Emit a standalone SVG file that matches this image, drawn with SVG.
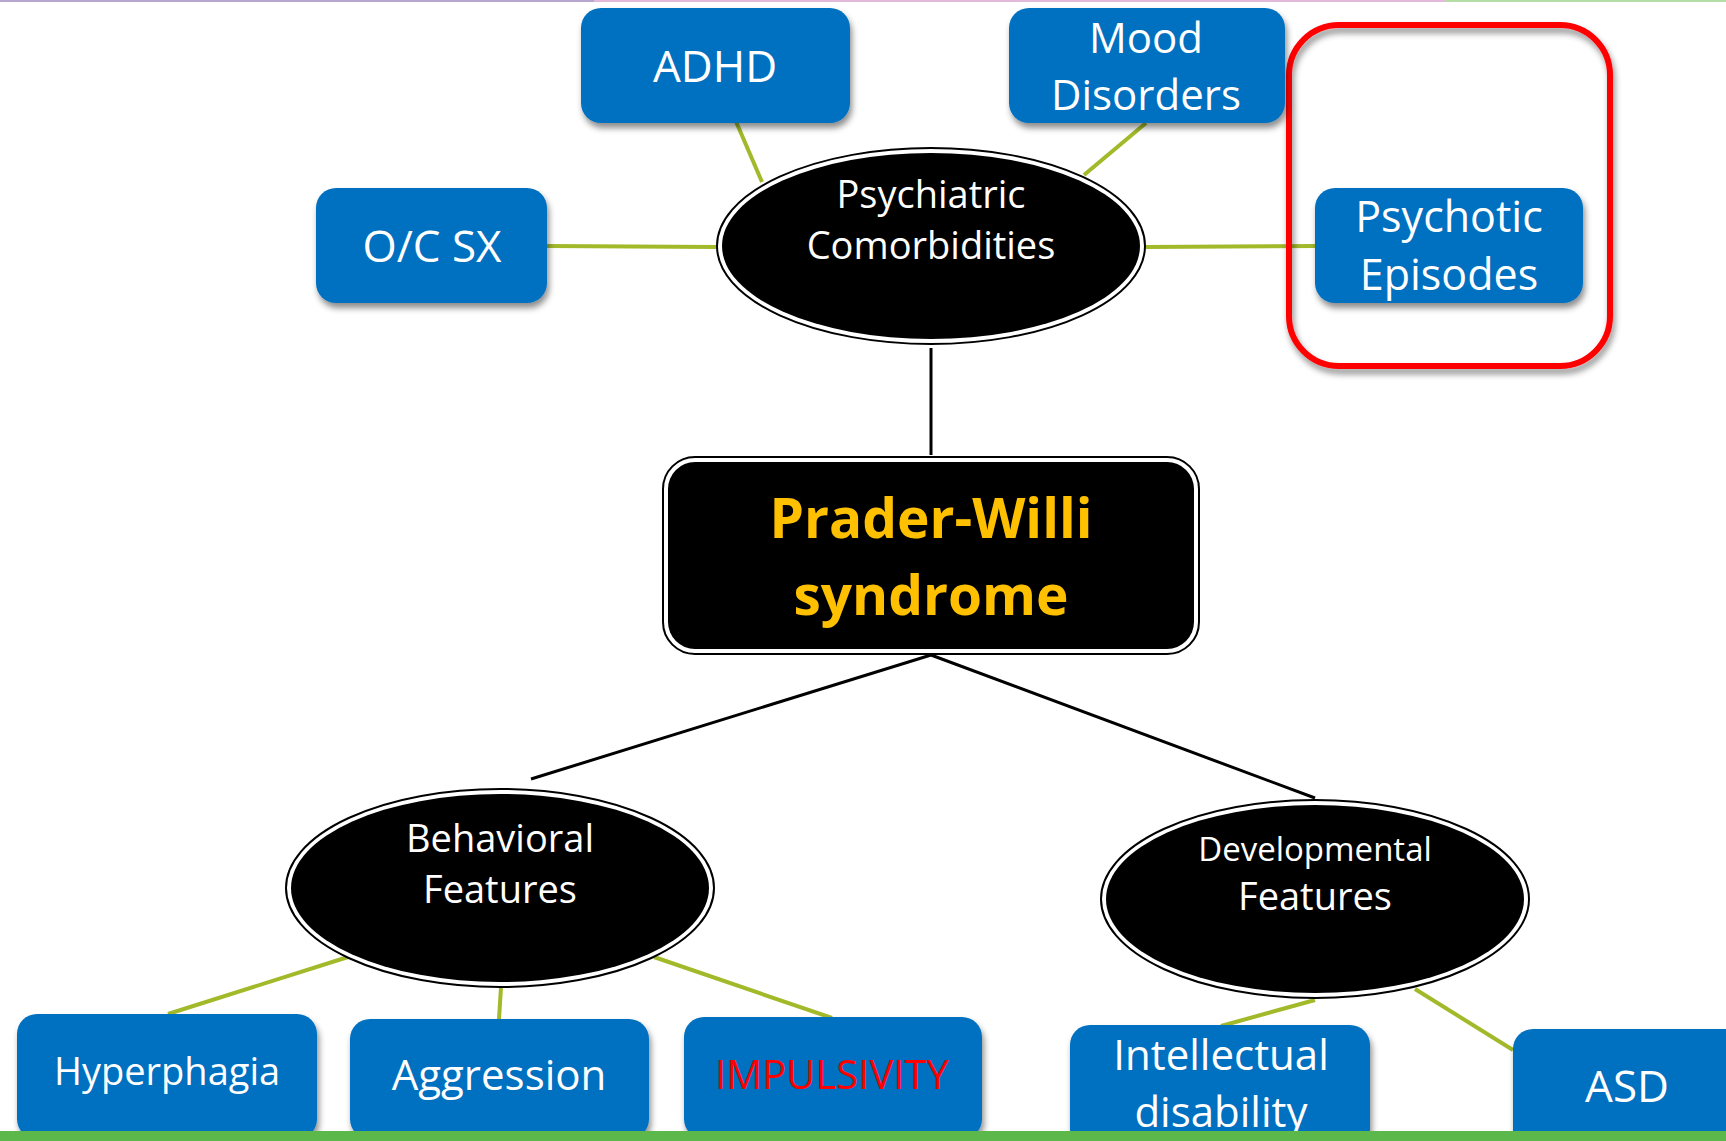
<svg xmlns="http://www.w3.org/2000/svg" width="1726" height="1141" viewBox="0 0 1726 1141">
<defs>
<filter id="sh" x="-20%" y="-20%" width="140%" height="150%">
<feDropShadow dx="2" dy="5" stdDeviation="3" flood-color="#000" flood-opacity="0.45"/>
</filter>
<style>
.box{fill:#0070C0;filter:url(#sh)}
.t{font-family:"Open Sans","Liberation Sans",sans-serif;fill:#fff;text-anchor:middle}
.g{stroke:#A2B92A;stroke-width:4;fill:none}
.k{stroke:#000;stroke-width:3;fill:none}
.ring{fill:#fff;stroke:#000;stroke-width:2}
.core{fill:#000}
.pw{font-family:"Open Sans","Liberation Sans",sans-serif;font-size:55px;font-weight:bold;fill:#FFC000;text-anchor:middle}
</style>
</defs>
<rect x="0" y="0" width="1726" height="1141" fill="#fff"/>
<rect x="0" y="0" width="594" height="2" fill="#B7A6CF"/>
<rect x="594" y="0" width="851" height="2" fill="#E3B9DA"/>
<rect x="1445" y="0" width="281" height="2" fill="#B5DDA6"/>

<g id="connectors">
<line class="g" x1="722" y1="89" x2="762" y2="182"/>
<line class="g" x1="1146" y1="123" x2="1084" y2="175"/>
<line class="g" x1="547" y1="246" x2="716" y2="247"/>
<line class="g" x1="1146" y1="247" x2="1315" y2="246"/>
<line class="k" x1="931" y1="348" x2="931" y2="455"/>
<line class="k" x1="931" y1="655" x2="531" y2="779"/>
<line class="k" x1="931" y1="655" x2="1315" y2="798"/>
<line class="g" x1="168" y1="1014" x2="348" y2="957"/>
<line class="g" x1="499" y1="1019" x2="501" y2="987"/>
<line class="g" x1="832" y1="1018" x2="654" y2="957"/>
<line class="g" x1="1221" y1="1026" x2="1315" y2="1000"/>
<line class="g" x1="1513" y1="1050" x2="1415" y2="989"/>
</g>

<g id="highlight">
<rect x="1289" y="25" width="321" height="341" rx="50" fill="none" stroke="#FF0000" stroke-width="6" filter="url(#sh)"/>
</g>

<g id="adhd">
<rect class="box" x="581" y="8" width="269" height="115" rx="20"/>
<text class="t" x="715" y="82" font-size="44">ADHD</text>
</g>
<g id="mood">
<rect class="box" x="1009" y="8" width="276" height="115" rx="20"/>
<text class="t" x="1146" y="53" font-size="42">Mood</text>
<text class="t" x="1146" y="110" font-size="42">Disorders</text>
</g>
<g id="ocsx">
<rect class="box" x="316" y="188" width="231" height="115" rx="20"/>
<text class="t" x="432" y="262" font-size="44">O/C SX</text>
</g>
<g id="psychotic">
<rect class="box" x="1315" y="188" width="268" height="115" rx="20"/>
<text class="t" x="1449" y="232" font-size="43">Psychotic</text>
<text class="t" x="1449" y="290" font-size="43">Episodes</text>
</g>
<g id="psychiatric">
<ellipse class="ring" cx="931" cy="246" rx="214" ry="98"/>
<ellipse class="core" cx="931" cy="246" rx="209" ry="93"/>
<text class="t" x="931" y="208" font-size="38">Psychiatric</text>
<text class="t" x="931" y="259" font-size="38">Comorbidities</text>
</g>
<g id="pws">
<rect class="ring" x="663" y="457" width="536" height="197" rx="32"/>
<rect class="core" x="668" y="462" width="526" height="187" rx="27"/>
<text class="pw" x="931" y="538">Prader-Willi</text>
<text class="pw" x="931" y="615">syndrome</text>
</g>
<g id="behavioral">
<ellipse class="ring" cx="500" cy="888" rx="214" ry="99"/>
<ellipse class="core" cx="500" cy="888" rx="209" ry="94"/>
<text class="t" x="500" y="852" font-size="38">Behavioral</text>
<text class="t" x="500" y="903" font-size="38">Features</text>
</g>
<g id="developmental">
<ellipse class="ring" cx="1315" cy="899" rx="214" ry="99"/>
<ellipse class="core" cx="1315" cy="899" rx="209" ry="94"/>
<text class="t" x="1315" y="861" font-size="33">Developmental</text>
<text class="t" x="1315" y="910" font-size="38">Features</text>
</g>
<g id="hyperphagia">
<rect class="box" x="17" y="1014" width="300" height="125" rx="20"/>
<text class="t" x="167" y="1085" font-size="38">Hyperphagia</text>
</g>
<g id="aggression">
<rect class="box" x="350" y="1019" width="299" height="120" rx="20"/>
<text class="t" x="499" y="1090" font-size="42">Aggression</text>
</g>
<g id="impulsivity">
<rect class="box" x="684" y="1017" width="298" height="122" rx="20"/>
<text class="t" x="832" y="1089" font-size="40" style="fill:#FF0000">IMPULSIVITY</text>
</g>
<g id="intellectual">
<rect class="box" x="1070" y="1025" width="300" height="125" rx="20"/>
<text class="t" x="1221" y="1070" font-size="42">Intellectual</text>
<text class="t" x="1221" y="1127" font-size="42">disability</text>
</g>
<g id="asd">
<rect class="box" x="1513" y="1029" width="240" height="125" rx="20"/>
<text class="t" x="1627" y="1102" font-size="44">ASD</text>
</g>
<rect x="0" y="1131" width="1726" height="10" fill="#5DB84B"/>
</svg>
